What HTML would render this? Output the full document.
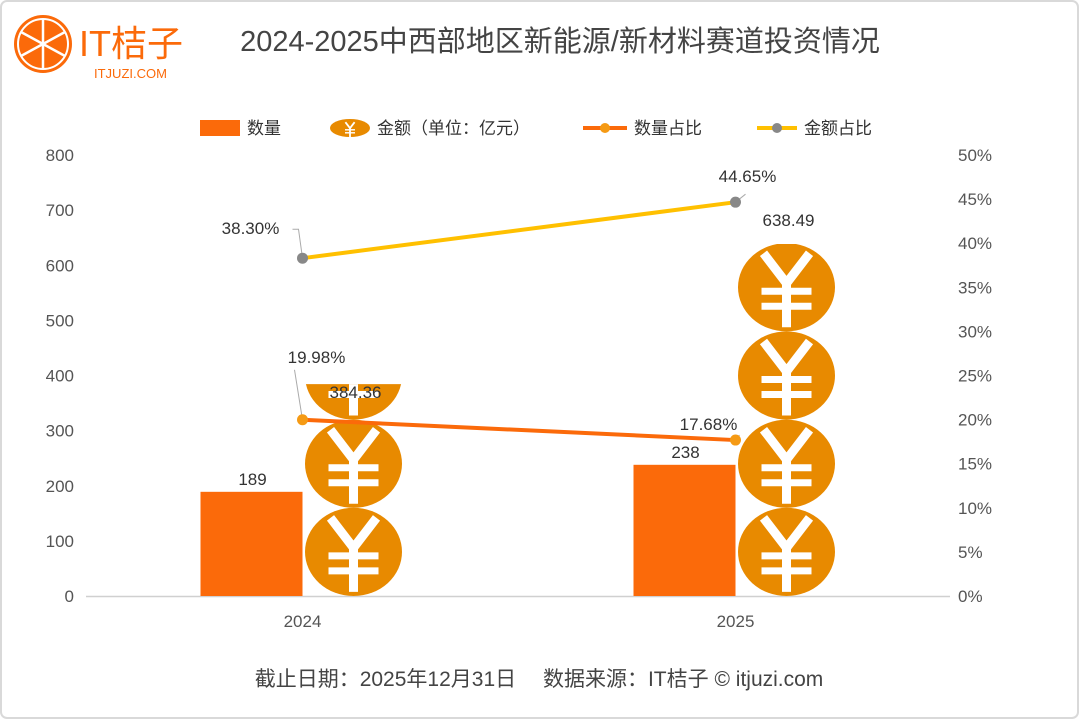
<!DOCTYPE html>
<html><head><meta charset="utf-8"><style>
body{margin:0;background:#fff;}
svg text{font-family:"Liberation Sans","Noto Sans CJK SC",sans-serif;}
</style></head><body>
<svg id="chart" width="1080" height="720" viewBox="0 0 1080 720" xmlns="http://www.w3.org/2000/svg">
<defs>
<g id="yen">
<polyline points="-23,-34 0,-4 23,-34" fill="none" stroke="#fff" stroke-width="9"/>
<line x1="-25" y1="4" x2="25" y2="4" stroke="#fff" stroke-width="7"/>
<line x1="-25" y1="19" x2="25" y2="19" stroke="#fff" stroke-width="7"/>
<line x1="0" y1="-4" x2="0" y2="40" stroke="#fff" stroke-width="9"/>
</g>
</defs>
<rect x="1" y="1" width="1077" height="717" rx="6" fill="#fff" stroke="#d9d9d9" stroke-width="2"/>
<g>
<circle cx="43" cy="44" r="29" fill="#fb6a0a"/>
<circle cx="43" cy="44" r="25" fill="none" stroke="#fff" stroke-width="2"/>
<g stroke="#fff" stroke-width="2.5">
<line x1="43" y1="44" x2="43" y2="19"/><line x1="43" y1="44" x2="43" y2="69"/>
<line x1="43" y1="44" x2="65" y2="32"/><line x1="43" y1="44" x2="21" y2="56"/>
<line x1="43" y1="44" x2="65" y2="56"/><line x1="43" y1="44" x2="21" y2="32"/>
</g>
<text x="79" y="56" font-size="36" fill="#fb6a0a">IT桔子</text>
<text x="94" y="78" font-size="13" fill="#fb6a0a">ITJUZI.COM</text>
</g>
<text x="560" y="51" text-anchor="middle" font-size="29" fill="#444">2024-2025中西部地区新能源/新材料赛道投资情况</text>
<g>
<rect x="200" y="120" width="40" height="16" fill="#fb6a0a"/>
<text x="247" y="134" font-size="17" fill="#333">数量</text>
<ellipse cx="350" cy="128" rx="20" ry="9" fill="#e88a00"/>
<g transform="translate(350,129) scale(0.2)"><use href="#yen"/></g>
<text x="377" y="134" font-size="17" fill="#333">金额（单位：亿元）</text>
<line x1="583" y1="128" x2="627" y2="128" stroke="#fb6a0a" stroke-width="4"/>
<circle cx="605" cy="128" r="5" fill="#f59a14"/>
<text x="634" y="134" font-size="17" fill="#333">数量占比</text>
<line x1="757" y1="128" x2="797" y2="128" stroke="#ffc000" stroke-width="4"/>
<circle cx="777" cy="128" r="5" fill="#888"/>
<text x="804" y="134" font-size="17" fill="#333">金额占比</text>
</g>
<g id="plot"></g>
<text x="539" y="686" text-anchor="middle" font-size="21" fill="#444">截止日期：2025年12月31日　 数据来源：IT桔子 © itjuzi.com</text>
</svg>
<script>
const categories=['2024','2025'];
const counts=[189,238];
const amounts=[384.36,638.49];
const countShare=[19.98,17.68];
const amountShare=[38.30,44.65];
const leftTicks=[0,100,200,300,400,500,600,700,800];
const rightTicks=[0,5,10,15,20,25,30,35,40,45,50];
const NS='http://www.w3.org/2000/svg';
const plot=document.getElementById('plot');
const x0=86,x1=952,y0=596,yTop=155;
const yL=v=>y0-(v/800)*(y0-yTop);
const yR=v=>y0-(v/50)*(y0-yTop);
const band=(x1-x0)/categories.length;
const xc=i=>x0+band*i+band/2;
const amtLabelOff=[14,-18];
function mk(tag,attrs,parent){const e=document.createElementNS(NS,tag);for(const k in attrs)e.setAttribute(k,attrs[k]);(parent||plot).appendChild(e);return e;}
leftTicks.forEach(t=>{const e=mk('text',{x:74,y:yL(t)+6,'text-anchor':'end','font-size':17,fill:'#555'});e.textContent=t;

});
rightTicks.forEach(t=>{const e=mk('text',{x:958,y:yR(t)+6,'font-size':17,fill:'#555'});e.textContent=t+'%';

});
const ax=mk('line',{x1:x0,y1:y0+0.5,x2:x1-2,y2:y0+0.5,stroke:'#d0d0d0','stroke-width':1.5});


const coinH=(160/800)*(y0-yTop);
const defs=document.querySelector('defs');
categories.forEach((c,i)=>{
  const cx=xc(i);
  const lab=mk('text',{x:cx,y:627,'text-anchor':'middle','font-size':17,fill:'#555'});lab.textContent=c;
  
  
  const bx=cx-102;
  const b=mk('rect',{x:bx,y:yL(counts[i]),width:102,height:y0-yL(counts[i]),fill:'#fb6a0a'});
  
  
  const t=mk('text',{x:bx+52,y:yL(counts[i])-7,'text-anchor':'middle','font-size':17,fill:'#333'});t.textContent=counts[i];
  
  
  const cid='clip'+i;
  const cp=mk('clipPath',{id:cid},defs);
  mk('rect',{x:cx+2,y:yL(amounts[i]),width:98,height:y0-yL(amounts[i])},cp);
  const g=mk('g',{'clip-path':'url(#'+cid+')'});
  
  
  const n=Math.ceil(amounts[i]/160);
  for(let k=0;k<n;k++){
    const cy=y0-coinH*k-coinH/2;
    mk('ellipse',{cx:cx+51,cy:cy,rx:48.5,ry:coinH/2,fill:'#e88a00'},g);
    mk('use',{href:'#yen',transform:'translate('+(cx+51)+','+cy+')'},g);
  }
  const at=mk('text',{x:cx+53,y:yL(amounts[i])+amtLabelOff[i],'text-anchor':'middle','font-size':17,fill:'#333'});at.textContent=amounts[i].toFixed(2);
  
  
});
function line(vals,color,dot,name,offs){
  const pts=vals.map((v,i)=>[xc(i),yR(v)]);
  const l=mk('polyline',{points:pts.map(p=>p.join(',')).join(' '),fill:'none',stroke:color,'stroke-width':4});
  
  
  pts.forEach((p,i)=>{
    const o=offs[i];
    mk('polyline',{points:p[0]+','+p[1]+' '+(p[0]+o[2])+','+(p[1]+o[3])+(o[4]!==undefined?' '+(p[0]+o[4])+','+(p[1]+o[3]):''),fill:'none',stroke:'#aaa','stroke-width':1});
    const d=mk('circle',{cx:p[0],cy:p[1],r:5.5,fill:dot});
    
    
    const t=mk('text',{x:p[0]+o[0],y:p[1]+o[1],'text-anchor':'middle','font-size':17,fill:'#333'});t.textContent=vals[i].toFixed(2)+'%';
    
    
  });
}
line(amountShare,'#ffc000','#888','amount-share',[[-52,-24,-4,-29,-10],[12,-20,10,-8]]);
line(countShare,'#fb6a0a','#f59a14','count-share',[[14,-57,-8,-50,-8],[-27,-10,4,-5]]);
</script>
</body></html>
